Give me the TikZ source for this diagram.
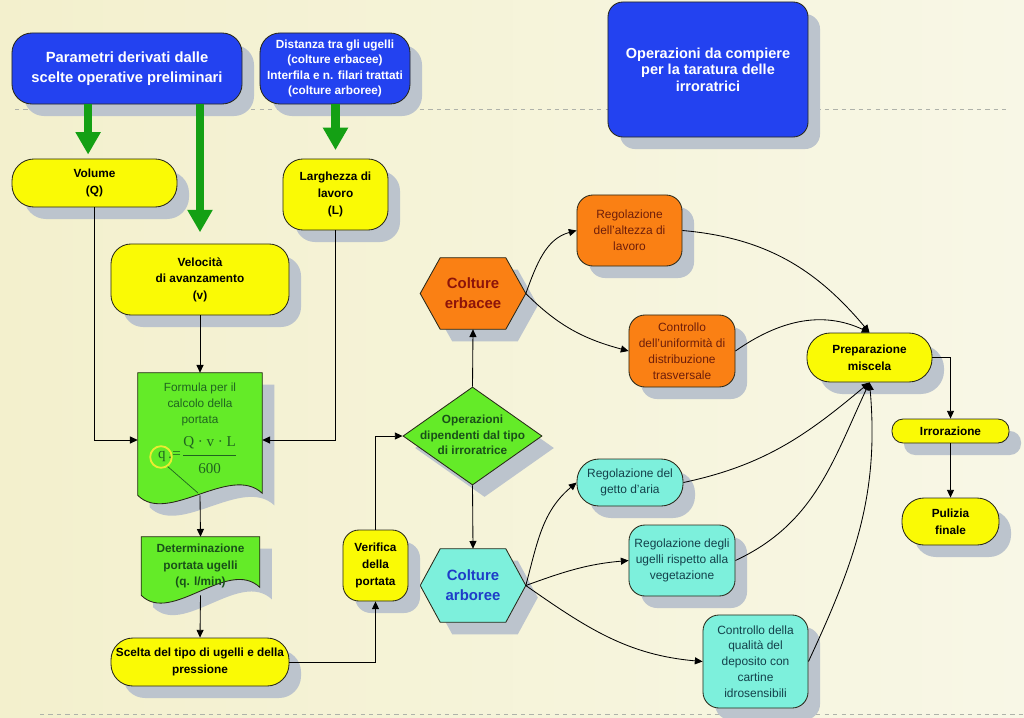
\documentclass[tikz,border=0pt]{standalone}
\usepackage{fontspec}
\setmainfont{Liberation Sans}
\newfontfamily\formula{Liberation Serif}
\usetikzlibrary{positioning,shapes.geometric,arrows.meta,shadows}

\definecolor{coloreBlu}{RGB}{35,66,240}
\definecolor{coloreGiallo}{RGB}{250,250,5}
\definecolor{coloreVerde}{RGB}{100,235,40}
\definecolor{coloreArancio}{RGB}{250,128,20}
\definecolor{coloreCiano}{RGB}{125,240,220}
\definecolor{ombra}{RGB}{188,196,205}
\definecolor{frecciaVerde}{RGB}{20,160,20}
\definecolor{bordo}{RGB}{40,40,25}
\definecolor{testoRosso}{RGB}{140,20,10}
\definecolor{testoBlu}{RGB}{30,60,200}
\definecolor{testoMarrone}{RGB}{110,30,10}
\definecolor{testoCiano}{RGB}{20,65,75}
\definecolor{testoVerde}{RGB}{25,80,25}
\definecolor{formulaVerde}{RGB}{32,100,32}
\definecolor{cerchioGiallo}{RGB}{235,235,50}
\definecolor{lineaTratteggio}{RGB}{175,178,170}
\definecolor{sfondoSx}{RGB}{243,240,205}
\definecolor{sfondoDx}{RGB}{248,247,230}

\pgfdeclarelayer{sfondo}
\pgfdeclarelayer{background}
\pgfsetlayers{sfondo,background,main}

% documento con bordo inferiore ondulato: nodo, colore, rialzo a destra
\newcommand{\documento}[3]{%
  \begin{pgfonlayer}{background}
    \fill[ombra] ([shift={(12,12)}]#1.north west) -- ([shift={(12,12)}]#1.north east)
      -- ([shift={(12,12-#3)}]#1.south east) .. controls +(-32,-30) and +(30,30) .. ([shift={(12,12)}]#1.south west) -- cycle;
    \filldraw[fill=#2, draw=bordo, line width=0.6pt] (#1.north west) -- (#1.north east)
      -- ([shift={(0,-#3)}]#1.south east) .. controls +(-32,-30) and +(30,30) .. (#1.south west) -- cycle;
  \end{pgfonlayer}}

% esagono: nodo, colore
\newcommand{\esagono}[2]{%
  \begin{pgfonlayer}{background}
    \fill[ombra] ([shift={(32,12)}]#1.north west) -- ([shift={(-8,12)}]#1.north east) -- ([shift={(12,12)}]#1.east)
      -- ([shift={(-8,12)}]#1.south east) -- ([shift={(32,12)}]#1.south west) -- ([shift={(12,12)}]#1.west) -- cycle;
    \filldraw[fill=#2, draw=bordo, line width=0.6pt] ([shift={(20,0)}]#1.north west) -- ([shift={(-20,0)}]#1.north east) -- (#1.east)
      -- ([shift={(-20,0)}]#1.south east) -- ([shift={(20,0)}]#1.south west) -- (#1.west) -- cycle;
  \end{pgfonlayer}}

\begin{document}
\begin{tikzpicture}[x=0.025cm, y=-0.025cm,
  blocco/.style={draw=bordo, line width=0.6pt, align=center, inner sep=1pt,
                 drop shadow={shadow xshift=0.3cm, shadow yshift=-0.3cm, fill=ombra, opacity=1}},
  titolo/.style={blocco, fill=coloreBlu, text=white, rounded corners=0.5cm,
                 font=\bfseries\fontsize{10.5}{14.5}\selectfont},
  giallo/.style={blocco, fill=coloreGiallo, rounded corners=0.5cm,
                 font=\bfseries\fontsize{8.4}{11.8}\selectfont},
  arancio/.style={blocco, fill=coloreArancio, text=testoMarrone, rounded corners=0.4cm,
                  font=\fontsize{8.5}{11.3}\selectfont},
  ciano/.style={blocco, fill=coloreCiano, text=testoCiano, rounded corners=0.4cm,
                font=\fontsize{8.5}{11.3}\selectfont},
  esa/.style={align=center, inner sep=0pt, minimum width=2.625cm,
              font=\bfseries\fontsize{10.6}{14.2}\selectfont},
  doc/.style={inner sep=0pt, align=center},
  freccia/.style={-{Triangle[length=5.5pt,width=5pt]}, line width=0.6pt, black},
  frecciona/.style={-{Triangle[length=16pt,width=17pt]}, line width=6pt, frecciaVerde}
]
  \useasboundingbox (0,0) rectangle (1024,717);
  \begin{pgfonlayer}{sfondo}
    \fill[left color=sfondoSx, right color=sfondoDx] (0,0) rectangle (1024,717);
    \draw[lineaTratteggio, dashed, line width=0.5pt] (15,109) -- (1010,109);
    \draw[lineaTratteggio, dashed, line width=0.5pt] (40,714) -- (1024,714);
  \end{pgfonlayer}

  % titoli
  \node[titolo, minimum width=5.75cm, minimum height=1.775cm] (par) at (127,68.5)
    {Parametri derivati dalle\\scelte operative preliminari};
  \node[titolo, minimum width=3.75cm, minimum height=1.775cm,
        font=\bfseries\fontsize{8.4}{10.9}\selectfont] (dist) at (335,68.5)
    {Distanza tra gli ugelli\\(colture erbacee)\\Interfila e n. filari trattati\\(colture arboree)};
  \node[titolo, minimum width=5cm, minimum height=3.375cm, rounded corners=0.375cm,
        font=\bfseries\fontsize{10.3}{11.8}\selectfont] (oper) at (708,69.5)
    {Operazioni da compiere\\per la taratura delle\\irroratrici};

  % parametri
  \node[giallo, minimum width=4.125cm, minimum height=1.2cm, rounded corners=0.55cm] (vol) at (94.5,183) {Volume\\(Q)};
  \node[giallo, minimum width=4.45cm, minimum height=1.775cm] (vel) at (200,279.5) {Velocità\\di avanzamento\\(v)};
  \node[giallo, minimum width=2.625cm, minimum height=1.775cm] (larg) at (335.5,194.5) {Larghezza di\\lavoro\\(L)};

  % formula e portata
  \node[doc, minimum width=3.1cm, minimum height=3.05cm] (form) at (200,434) {};
  \documento{form}{coloreVerde}{2}
  \node[doc, text=formulaVerde, font=\fontsize{8.4}{11.4}\selectfont] (formtesto) at (200,404)
    {Formula per il\\calcolo della\\portata};
  \node[inner sep=0pt, text=formulaVerde] (eq) at (197,455)
    {\formula\fontsize{10.7}{12}\selectfont q\,:=\,\renewcommand{\arraystretch}{1.55}%
     \begin{tabular}{@{}c@{}}Q · v · L\\\hline 600\end{tabular}};
  \node[circle, draw=cerchioGiallo, line width=1.3pt, minimum size=0.54cm, inner sep=0pt] (cerchio) at (161,457) {};
  \draw[formulaVerde, line width=0.5pt] (cerchio.-55) -- (198,493);

  \node[doc, minimum width=2.95cm, minimum height=1.45cm, text=testoVerde,
        font=\bfseries\fontsize{8.4}{11.7}\selectfont] (det) at (200.5,566)
    {Determinazione\\portata ugelli\\(q. l/min)};
  \documento{det}{coloreVerde}{8}

  \node[giallo, minimum width=4.45cm, minimum height=1.2cm, rounded corners=0.55cm] (scelta) at (200,662)
    {Scelta del tipo di ugelli e della\\pressione};
  \node[giallo, minimum width=1.625cm, minimum height=1.775cm, rounded corners=0.4cm] (verif) at (375.5,565.5)
    {Verifica\\della\\portata};

  % scelta della macchina
  \node[blocco, diamond, fill=coloreVerde, minimum width=3.475cm, minimum height=2.45cm, inner sep=0pt,
        text=testoVerde, font=\bfseries\fontsize{8.4}{10.9}\selectfont] (dia) at (472.5,436)
    {\makebox[0pt]{\begin{tabular}{@{}c@{}}Operazioni\\dipendenti dal tipo\\di irroratrice\end{tabular}}};
  \node[esa, minimum height=1.775cm, text=testoRosso] (erb) at (473,293.5) {Colture\\erbacee};
  \esagono{erb}{coloreArancio}
  \node[esa, minimum height=1.825cm, text=testoBlu] (arb) at (473,585.5) {Colture\\arboree};
  \esagono{arb}{coloreCiano}

  % operazioni
  \node[arancio, minimum width=2.625cm, minimum height=1.775cm] (regalt) at (629.5,230.5)
    {Regolazione\\dell'altezza di\\lavoro};
  \node[arancio, minimum width=2.65cm, minimum height=1.8cm] (unif) at (682,351)
    {Controllo\\dell'uniformità di\\distribuzione\\trasversale};
  \node[ciano, minimum width=2.65cm, minimum height=1.175cm, rounded corners=0.55cm] (getto) at (630,482.5)
    {Regolazione del\\getto d'aria};
  \node[ciano, minimum width=2.65cm, minimum height=1.775cm] (ugelli) at (682,560.5)
    {Regolazione degli\\ugelli rispetto alla\\vegetazione};
  \node[ciano, minimum width=2.625cm, minimum height=2.325cm] (qual) at (755.5,661.5)
    {Controllo della\\qualità del\\deposito con\\cartine\\idrosensibili};

  \node[giallo, minimum width=3.125cm, minimum height=1.225cm, rounded corners=0.58cm] (prep) at (869.5,357.5)
    {Preparazione\\miscela};
  \node[giallo, minimum width=2.925cm, minimum height=0.6cm, rounded corners=0.28cm, inner sep=0pt] (irr) at (950.5,431)
    {Irrorazione};
  \node[giallo, minimum width=2.425cm, minimum height=1.175cm, rounded corners=0.55cm] (pul) at (950.5,521.5)
    {Pulizia\\finale};

  % frecce grandi
  \draw[frecciona] ([xshift=-0.16cm]vol.north |- par.south) -- ([xshift=-0.16cm,yshift=0.1cm]vol.north);
  \draw[frecciona, shorten >=8pt] (vel.north |- par.south) -- (vel.north);
  \draw[frecciona, shorten >=6pt] (larg.north |- dist.south) -- (larg.north);

  % collegamenti
  \draw[freccia] (vol.south) |- ([yshift=-0.15cm]form.west);
  \draw[freccia] (larg.south) |- ([yshift=-0.15cm]form.east);
  \draw[freccia] (vel.south) -- (form.north);
  \draw[freccia] (form.south) -- (det.north);
  \draw[freccia] (det.south) -- (scelta.north);
  \draw[freccia] (scelta.east) -| (verif.south);
  \draw[freccia] (verif.north) |- (dia.west);
  \draw[freccia] (dia.north) -- (erb.south);
  \draw[freccia] (dia.south) -- (arb.north);
  \draw[freccia] (erb.east) to[out=70, in=195] (regalt.west);
  \draw[freccia] (erb.east) to[out=-45, in=165] (unif.west);
  \draw[freccia] (arb.east) to[out=75, in=220] (getto.west);
  \draw[freccia] (arb.east) to[out=20, in=185] (ugelli.west);
  \draw[freccia] (arb.east) to[out=-35, in=175] (qual.west);
  \draw[freccia] (regalt.east) to[out=-5, in=130] (prep.north);
  \draw[freccia] (unif.east) to[out=35, in=155] (prep.north);
  \draw[freccia] (getto.east) to[out=12, in=220] (prep.south);
  \draw[freccia] (ugelli.east) to[out=25, in=245] (prep.south);
  \draw[freccia] (qual.east) to[out=65, in=275] (prep.south);
  \draw[freccia] (prep.east) -| (irr.north);
  \draw[freccia] (irr.south) -- (pul.north);
\end{tikzpicture}
\end{document}
